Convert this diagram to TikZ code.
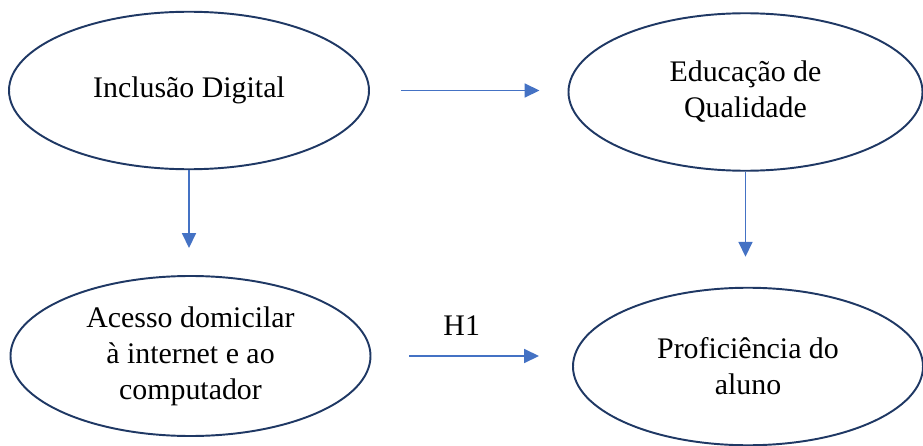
\documentclass[tikz,border=0pt]{standalone}
\usepackage{fontspec}
\setmainfont{Liberation Serif}
\usetikzlibrary{shapes.geometric, arrows.meta}
\definecolor{navyline}{HTML}{1F3864}
\definecolor{arrowblue}{HTML}{4472C4}
\tikzstyle{construct} = [ellipse, draw=navyline, line width=1.1pt, minimum width=7.2cm, minimum height=3.15cm, inner sep=0pt, align=center, font=\fontsize{17}{20.5}\selectfont]
\tikzstyle{arrow} = [arrowblue, line width=1pt, -{Triangle[length=0.3cm,width=0.28cm]}]
\tikzstyle{hyp} = [text=black, font=\fontsize{17}{20.5}\selectfont, inner sep=0pt]

\begin{document}
\begin{tikzpicture}
\useasboundingbox (0,0) rectangle (18.46,-8.92);
\node (incl) [construct] at (3.78,-1.81) {Inclusão Digital};
\node (educ) [construct, minimum width=7.08cm] at (14.91,-1.84) {Educação de\\Qualidade};
\node (acesso) [construct, minimum height=3.2cm] at (3.81,-7.12) {Acesso domicilar\\à internet e ao\\computador};
\node (prof) [construct, minimum width=7cm] at (14.96,-7.33) {Proficiência do\\aluno};

\draw [arrow, shorten <=0.62cm, shorten >=0.56cm] (incl.east) -- (incl.east -| educ.west);
\draw [arrow, shorten >=0.54cm] (incl.south) -- (incl.south |- acesso.north);
\draw [arrow, shorten >=0.6cm] (educ.south) -- (educ.south |- prof.north);
\draw [arrow, shorten <=0.76cm, shorten >=0.66cm] (acesso.east) -- node[hyp, midway, yshift=0.6cm, xshift=-0.2cm] {H1} (acesso.east -| prof.west);

\end{tikzpicture}
\end{document}
